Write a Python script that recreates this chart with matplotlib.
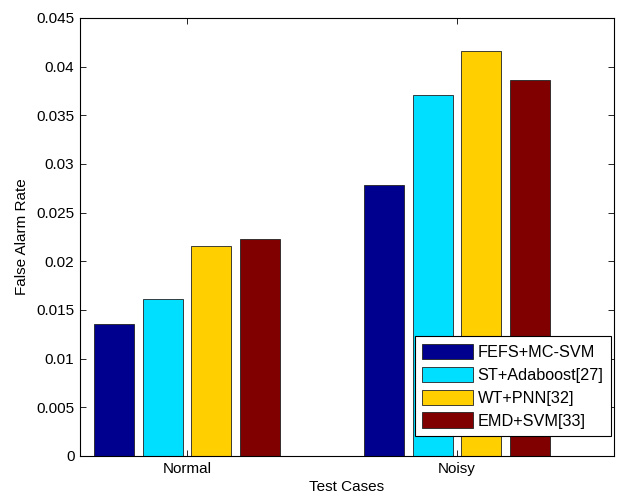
import numpy as np
import matplotlib
matplotlib.use('Agg')
import matplotlib.pyplot as plt

plt.rcParams['font.family'] = ['Liberation Sans', 'DejaVu Sans']

cases = ['Normal', 'Noisy']
methods = ['FEFS+MC-SVM', 'ST+Adaboost[27]', 'WT+PNN[32]', 'EMD+SVM[33]']
fefs = [0.0136, 0.0278]
st_ada = [0.0161, 0.0371]
wt_pnn = [0.0216, 0.0416]
emd_svm = [0.0223, 0.0386]
colors = ['#00008F', '#00DFFF', '#FFCF00', '#800000']

fig = plt.figure(figsize=(6.2, 4.97), dpi=100)
ax = fig.add_axes([0.129, 0.0825, 0.861, 0.8813])

x = np.arange(1, len(cases) + 1)
step = 0.18
width = 0.148
series = [fefs, st_ada, wt_pnn, emd_svm]
for i, (vals, c, lab) in enumerate(zip(series, colors, methods)):
    ax.bar(x + (i - 1.5) * step, vals, width=width, color=c,
           edgecolor='#222222', linewidth=0.6, label=lab)

ax.set_xlim(0.604, 2.58)
ax.set_ylim(0, 0.045)
ax.set_yticks(np.arange(0, 0.0451, 0.005))
ax.set_yticklabels(['0', '0.005', '0.01', '0.015', '0.02', '0.025',
                    '0.03', '0.035', '0.04', '0.045'])
ax.set_xticks(x)
ax.set_xticklabels(cases)
ax.tick_params(direction='in', top=True, right=True, labelsize=11,
               length=4, width=0.6, pad=4)
for s in ax.spines.values():
    s.set_linewidth(0.8)

ax.set_xlabel('Test Cases', fontsize=11, labelpad=3)
ax.set_ylabel('False Alarm Rate', fontsize=11, labelpad=5)

leg = ax.legend(loc='lower right', bbox_to_anchor=(0.9945, 0.046),
                fancybox=False, framealpha=1, edgecolor='black',
                fontsize=11.7, handlelength=3.1, handleheight=1.05,
                borderpad=0.45, labelspacing=0.42, handletextpad=0.3,
                borderaxespad=0)
leg.get_frame().set_linewidth(0.8)

fig.savefig('out.png', dpi=100)
